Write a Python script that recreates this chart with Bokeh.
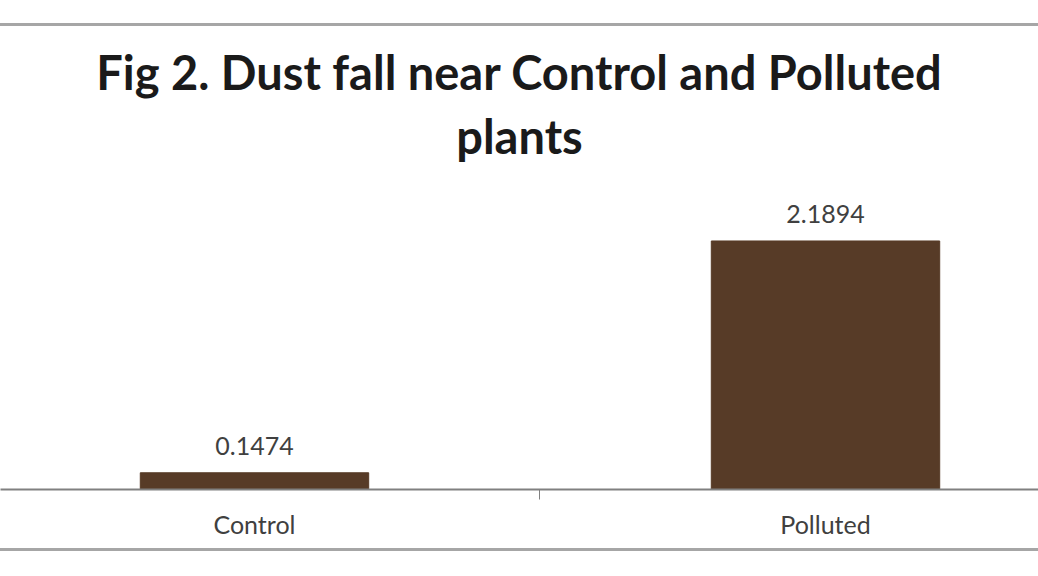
from bokeh.plotting import figure
from bokeh.models import Range1d, FixedTicker, Title, ColumnDataSource
from bokeh.core.properties import value
from bokeh.embed import file_html
from bokeh.resources import INLINE

categories = ["Control", "Polluted"]
dust_fall = [0.1474, 2.1894]
labels = ["0.1474", "2.1894"]
positions = [0, 1]

FONT = "Lato"

src = ColumnDataSource(dict(x=positions, y=dust_fall, label=labels))

p = figure(width=1038, height=528, output_backend="svg", toolbar_location=None,
           x_range=Range1d(-0.4448, 1.3730), y_range=Range1d(0, 2.819),
           min_border_left=0, min_border_right=0, min_border_top=143,
           min_border_bottom=65)
p.margin = (23, 0, 0, 0)
p.styles = {"border-top": "3px solid #a6a6a6", "border-bottom": "3px solid #a6a6a6"}

p.add_layout(Title(text="plants", align="center", text_font=FONT,
                   text_font_size="47px", text_font_style="bold",
                   text_color="#1a1a1a", standoff=11), "above")
p.add_layout(Title(text="Fig 2. Dust fall near Control and Polluted", align="center",
                   text_font=FONT, text_font_size="47px", text_font_style="bold",
                   text_color="#1a1a1a", standoff=2), "above")

p.vbar(x="x", top="y", width=0.40, bottom=0, source=src,
       fill_color="#573b27", line_color="#573b27")

p.text(x="x", y="y", text="label", source=src, text_align="center",
       text_baseline="middle", y_offset=-27, text_font=value(FONT),
       text_font_size="25px", text_color="#404040")

p.outline_line_color = None
p.xgrid.grid_line_color = None
p.ygrid.grid_line_color = None
p.yaxis.visible = False
p.background_fill_color = "white"
p.border_fill_color = "white"

xa = p.xaxis[0]
xa.ticker = FixedTicker(ticks=positions, minor_ticks=[0.5])
xa.major_label_overrides = {i: c for i, c in zip(positions, categories)}
xa.axis_line_color = "#808080"
xa.axis_line_width = 2
xa.major_tick_line_color = None
xa.major_tick_out = 0
xa.major_tick_in = 0
xa.minor_tick_line_color = "#808080"
xa.minor_tick_out = 10
xa.minor_tick_in = 0
xa.major_label_standoff = 9
xa.major_label_text_font = FONT
xa.major_label_text_font_size = "25px"
xa.major_label_text_color = "#404040"

open("out.html", "w").write(file_html(p, INLINE))
